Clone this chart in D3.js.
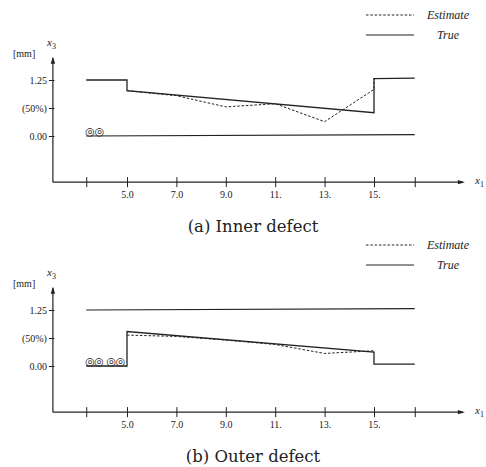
<!DOCTYPE html>
<html>
<head>
<meta charset="utf-8">
<script src="https://cdn.jsdelivr.net/npm/d3@7"></script>
<style>
  body { margin: 0; background: #fff; }
  text { fill: #222; }
</style>
</head>
<body>
<svg id="chart"></svg>
<script>
// ticks along the plate (x1) and the depth axis (x3)
const xTicks = [3.35, 5, 7, 9, 11, 13, 15, 16.65];
const xTickLabels = ["", "5.0", "7.0", "9.0", "11.", "13.", "15.", ""];
const yTicks = [0, 0.625, 1.25];
const yTickLabels = ["0.00", "(50%)", "1.25"];

// (a) inner defect
const innerSurfaceX = [3.35, 16.65];
const innerSurfaceY = [0, 0.03];
const innerTrueX = [3.35, 5, 5, 15, 15, 16.65];
const innerTrueY = [1.25, 1.25, 1.01, 0.52, 1.28, 1.29];
const innerEstX = [5, 7, 9, 11, 13, 15, 15];
const innerEstY = [1.01, 0.9, 0.65, 0.72, 0.32, 1.04, 1.28];

// (b) outer defect
const outerSurfaceX = [3.35, 16.65];
const outerSurfaceY = [1.25, 1.28];
const outerTrueX = [3.35, 5, 5, 15, 15, 16.65];
const outerTrueY = [0, 0, 0.77, 0.31, 0.04, 0.04];
const outerEstX = [5, 7, 9, 11, 13, 15];
const outerEstY = [0.69, 0.66, 0.58, 0.48, 0.28, 0.34];

const width = 486;
const height = 467;
const serif = "'Liberation Serif', 'DejaVu Serif', serif";
const ink = "#222";

const svg = d3.select("#chart")
  .attr("width", width)
  .attr("height", height)
  .style("font-family", serif);

svg.append("rect").attr("width", width).attr("height", height).attr("fill", "#fff");

// x scale is shared by both panels
const x = d3.scaleLinear().domain([5, 15]).range([127, 374]);

function drawPanel(offset, cfg) {
  const y = d3.scaleLinear().domain([0, 1.25]).range([136 + offset, 80 + offset]);
  const g = svg.append("g");
  const axisY = y(-1.03);

  // axis lines with arrow heads
  g.append("line")
    .attr("x1", x(2)).attr("x2", x(18.6))
    .attr("y1", axisY).attr("y2", axisY)
    .attr("stroke", ink).attr("stroke-width", 1.4);
  g.append("line")
    .attr("x1", x(2)).attr("x2", x(2))
    .attr("y1", axisY).attr("y2", y(1.74))
    .attr("stroke", ink).attr("stroke-width", 1.2);
  g.append("path")
    .attr("d", "M" + x(18.68) + "," + axisY + " l-7,-2.2 l0,4.4 z")
    .attr("fill", ink);
  g.append("path")
    .attr("d", "M" + x(2) + "," + y(1.77) + " l-2.2,7 l4.4,0 z")
    .attr("fill", ink);

  // x ticks
  const xAxis = g.append("g")
    .attr("transform", "translate(0," + axisY + ")")
    .call(d3.axisBottom(x)
      .tickValues(xTicks)
      .tickFormat((d, i) => xTickLabels[i])
      .tickSize(5)
      .tickPadding(4));
  xAxis.select(".domain").remove();
  xAxis.selectAll(".tick line").attr("y1", -5).attr("stroke", ink);
  xAxis.selectAll(".tick text")
    .style("font-family", serif).style("font-size", "10px").attr("fill", ink);

  // y ticks
  const yAxis = g.append("g")
    .attr("transform", "translate(" + x(2) + ",0)")
    .call(d3.axisLeft(y)
      .tickValues(yTicks)
      .tickFormat((d, i) => yTickLabels[i])
      .tickSize(4)
      .tickPadding(2));
  yAxis.select(".domain").remove();
  yAxis.selectAll(".tick line").attr("x1", 1.5).attr("stroke", ink);
  yAxis.selectAll(".tick text")
    .style("font-family", serif).style("font-size", "10px").attr("fill", ink);

  // axis titles
  g.append("text")
    .attr("x", 13).attr("y", y(1.77))
    .style("font-size", "10px")
    .text("[mm]");
  const x3 = g.append("text")
    .attr("x", 47).attr("y", y(2.0))
    .style("font-size", "11px").style("font-style", "italic");
  x3.append("tspan").text("x");
  x3.append("tspan").attr("dy", 3).style("font-size", "8px").style("font-style", "normal").text("3");
  const x1 = g.append("text")
    .attr("x", 475).attr("y", axisY + 2)
    .style("font-size", "11px").style("font-style", "italic");
  x1.append("tspan").text("x");
  x1.append("tspan").attr("dy", 3).style("font-size", "8px").style("font-style", "normal").text("1");

  const line = d3.line().x(d => x(d[0])).y(d => y(d[1]));

  // plate surface and true profile
  g.append("path")
    .datum(d3.zip(cfg.surfaceX, cfg.surfaceY))
    .attr("d", line)
    .attr("fill", "none").attr("stroke", ink).attr("stroke-width", 1.2);
  g.append("path")
    .datum(d3.zip(cfg.trueX, cfg.trueY))
    .attr("d", line)
    .attr("fill", "none").attr("stroke", ink).attr("stroke-width", 1.3);
  // estimated profile
  g.append("path")
    .datum(d3.zip(cfg.estX, cfg.estY))
    .attr("d", line)
    .attr("fill", "none").attr("stroke", ink).attr("stroke-width", 1)
    .attr("stroke-dasharray", "2.5,1.8");

  // sensor symbols
  g.append("text")
    .attr("x", x(3.35) - 1).attr("y", y(0) - 1)
    .attr("textLength", cfg.sensorWidth)
    .style("font-family", "'DejaVu Sans', sans-serif")
    .style("font-size", "11px")
    .style("font-weight", "bold")
    .text(cfg.sensors);

  // legend
  const legendY = [15 + offset, 35 + offset];
  g.append("line")
    .attr("x1", 366).attr("x2", 414)
    .attr("y1", legendY[0]).attr("y2", legendY[0])
    .attr("stroke", ink).attr("stroke-width", 1).attr("stroke-dasharray", "2.5,1.8");
  g.append("line")
    .attr("x1", 366).attr("x2", 414)
    .attr("y1", legendY[1]).attr("y2", legendY[1])
    .attr("stroke", ink).attr("stroke-width", 1.2);
  g.append("text")
    .attr("x", 448).attr("y", legendY[0] + 4)
    .attr("text-anchor", "middle")
    .style("font-size", "12px").style("font-style", "italic")
    .text("Estimate");
  g.append("text")
    .attr("x", 448).attr("y", legendY[1] + 4)
    .attr("text-anchor", "middle")
    .style("font-size", "12px").style("font-style", "italic")
    .text("True");

  // caption
  g.append("text")
    .attr("x", 253).attr("y", 232 + offset)
    .attr("text-anchor", "middle")
    .style("font-family", "'DejaVu Serif', serif")
    .style("font-size", "16.5px")
    .text(cfg.caption);
}

drawPanel(0, {
  surfaceX: innerSurfaceX, surfaceY: innerSurfaceY,
  trueX: innerTrueX, trueY: innerTrueY,
  estX: innerEstX, estY: innerEstY,
  sensors: "◎◎", sensorWidth: 19,
  caption: "(a) Inner defect"
});

drawPanel(230, {
  surfaceX: outerSurfaceX, surfaceY: outerSurfaceY,
  trueX: outerTrueX, trueY: outerTrueY,
  estX: outerEstX, estY: outerEstY,
  sensors: "◎◎ ◎◎", sensorWidth: 40,
  caption: "(b) Outer defect"
});
</script>
</body>
</html>
